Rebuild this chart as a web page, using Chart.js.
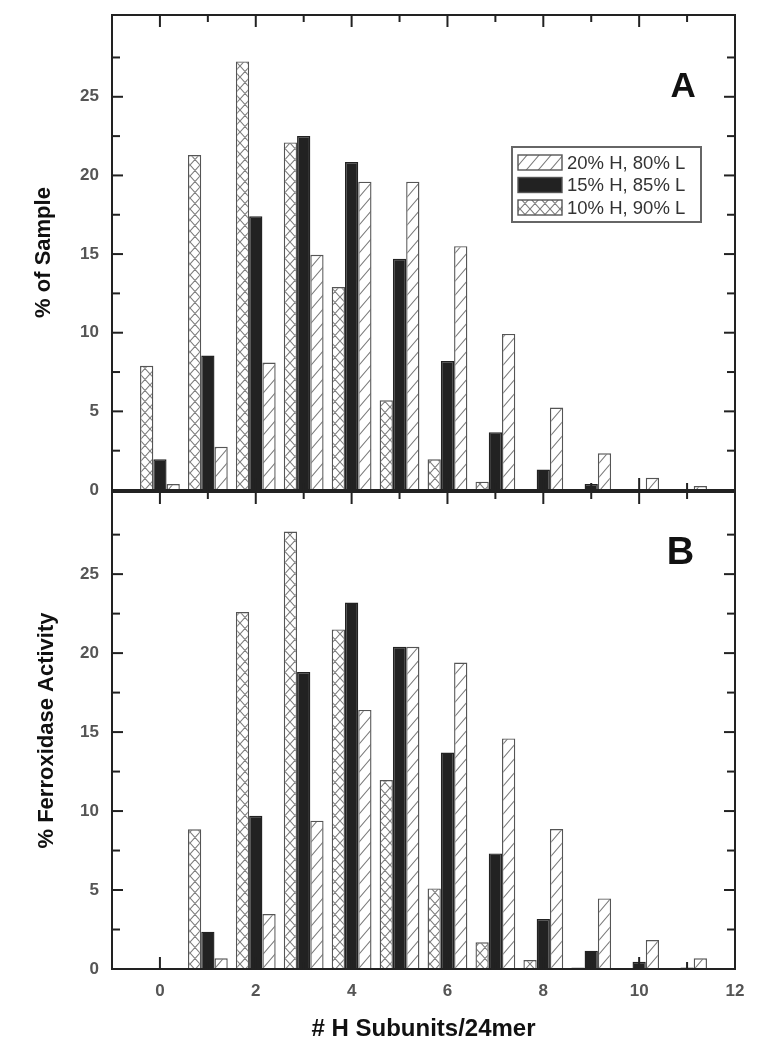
<!DOCTYPE html>
<html><head><meta charset="utf-8">
<script src="https://cdn.jsdelivr.net/npm/chart.js@4.4.0/dist/chart.umd.min.js"></script>
<style>
html,body{margin:0;padding:0;background:#fff;width:761px;height:1050px;overflow:hidden;}
canvas{position:absolute;left:0;}
#cA{top:0;}
#cB{top:491px;}
</style></head><body>
<canvas id="cA" width="761" height="505"></canvas>
<canvas id="cB" width="761" height="559"></canvas>
<script>
// ---------- data ----------
const categories = [0, 1, 2, 3, 4, 5, 6, 7, 8, 9, 10, 11];
const seriesLabels = ['10% H, 90% L', '15% H, 85% L', '20% H, 80% L'];

// Panel A: % of Sample
const sampleH10 = [7.9, 21.3, 27.25, 22.1, 12.9, 5.7, 1.95, 0.53, 0.06, 0.02, 0, 0];
const sampleH15 = [1.95, 8.55, 17.4, 22.5, 20.85, 14.7, 8.2, 3.67, 1.3, 0.38, 0.06, 0.03];
const sampleH20 = [0.38, 2.75, 8.1, 14.95, 19.6, 19.6, 15.5, 9.92, 5.24, 2.33, 0.78, 0.25];

// Panel B: % Ferroxidase Activity
const activityH10 = [0, 8.84, 22.6, 27.7, 21.5, 11.96, 5.1, 1.69, 0.57, 0.1, 0, 0];
const activityH15 = [0, 2.36, 9.7, 18.8, 23.2, 20.4, 13.7, 7.32, 3.16, 1.16, 0.46, 0.1];
const activityH20 = [0, 0.68, 3.48, 9.39, 16.4, 20.4, 19.4, 14.6, 8.86, 4.47, 1.83, 0.68];

// axis ticks
const xTickLabels = [0, 2, 4, 6, 8, 10, 12];
const xMinorTicks = [1, 3, 5, 7, 9, 11];
const yTickLabels = [0, 5, 10, 15, 20, 25];
const yMinorTicks = [2.5, 7.5, 12.5, 17.5, 22.5, 27.5];

// ---------- styling helpers ----------
const FONT = "'Liberation Sans', Arial, Helvetica, sans-serif";
const INK = '#222';

function makePattern(kind) {
  const w = kind === 'diag' ? 12 : 10;
  const h = kind === 'diag' ? 14 : 11;
  const c = document.createElement('canvas');
  c.width = w; c.height = h;
  const g = c.getContext('2d');
  g.fillStyle = '#fff';
  g.fillRect(0, 0, w, h);
  g.strokeStyle = '#7c7c7c';
  g.lineWidth = 1.1;
  g.beginPath();
  for (let k = -1; k <= 1; k++) {
    g.moveTo(-w + k * w, 2 * h); g.lineTo(2 * w + k * w, -h);
    if (kind === 'cross') {
      g.moveTo(-w + k * w, -h); g.lineTo(2 * w + k * w, 2 * h);
    }
  }
  g.stroke();
  return g.createPattern(c, 'repeat');
}
const crossFill = makePattern('cross');
const diagFill = makePattern('diag');
const solidFill = '#222';

function buildDatasets(h10, h15, h20) {
  const mk = (label, arr, fill, border) => ({
    label,
    data: categories.map((c, i) => ({ x: c, y: arr[i] })),
    backgroundColor: fill,
    borderColor: border,
    borderWidth: 1.4,
    borderSkipped: 'start'
  });
  return [
    mk(seriesLabels[0], h10, crossFill, '#555'),
    mk(seriesLabels[1], h15, solidFill, '#222'),
    mk(seriesLabels[2], h20, diagFill, '#555')
  ];
}

// frame + inward ticks on all four sides
const framePlugin = {
  id: 'frameTicks',
  afterDatasetsDraw(chart) {
    const { ctx, chartArea: a, scales: { x, y } } = chart;
    ctx.save();
    ctx.strokeStyle = INK;
    ctx.lineWidth = 2;
    ctx.strokeRect(a.left, a.top, a.right - a.left, a.bottom - a.top);
    const seg = (x1, y1, x2, y2) => { ctx.beginPath(); ctx.moveTo(x1, y1); ctx.lineTo(x2, y2); ctx.stroke(); };
    const xt = (vals, len) => vals.forEach(v => {
      const p = x.getPixelForValue(v);
      if (p <= a.left + 1 || p >= a.right - 1) return;
      seg(p, a.bottom, p, a.bottom - len);
      seg(p, a.top, p, a.top + len);
    });
    const yt = (vals, len) => vals.forEach(v => {
      const p = y.getPixelForValue(v);
      if (p <= a.top + 1 || p >= a.bottom - 1) return;
      seg(a.left, p, a.left + len, p);
      seg(a.right, p, a.right - len, p);
    });
    xt(xTickLabels, 12); xt(xMinorTicks, 7);
    yt(yTickLabels, 11); yt(yMinorTicks, 8);
    ctx.restore();
  }
};

// panel letter placed in data coordinates
const panelLetterPlugin = {
  id: 'panelLetter',
  afterDraw(chart, args, o) {
    if (!o || !o.text) return;
    const { ctx, scales: { x, y } } = chart;
    ctx.save();
    ctx.font = `bold ${o.size}px ${FONT}`;
    ctx.fillStyle = '#111';
    ctx.textAlign = 'center';
    ctx.textBaseline = 'middle';
    ctx.fillText(o.text, x.getPixelForValue(o.x), y.getPixelForValue(o.y));
    ctx.restore();
  }
};

// boxed legend inside the plot (panel A)
const boxLegendPlugin = {
  id: 'boxLegend',
  afterDraw(chart, args, o) {
    if (!o || !o.show) return;
    const { ctx, chartArea: a } = chart;
    const left = a.right - 223, top = a.top + 132, w = 189, h = 75;
    ctx.save();
    ctx.fillStyle = '#fff';
    ctx.fillRect(left, top, w, h);
    ctx.strokeStyle = '#666';
    ctx.lineWidth = 2;
    ctx.strokeRect(left, top, w, h);
    const ds = chart.data.datasets.slice().reverse();
    ctx.font = `18.5px ${FONT}`;
    ctx.textBaseline = 'middle';
    ctx.textAlign = 'left';
    ds.forEach((d, i) => {
      const cy = top + 15.5 + i * 22.5;
      const sx = left + 6, sy = cy - 7.5;
      ctx.fillStyle = d.backgroundColor;
      ctx.fillRect(sx, sy, 44, 15);
      ctx.strokeStyle = '#555';
      ctx.lineWidth = 1.4;
      ctx.strokeRect(sx, sy, 44, 15);
      ctx.fillStyle = '#333';
      ctx.fillText(d.label, left + 55, cy + 1);
    });
    ctx.restore();
  }
};

function makeChart(canvasId, datasets, cfg) {
  return new Chart(document.getElementById(canvasId), {
    type: 'bar',
    data: { datasets },
    plugins: [framePlugin, panelLetterPlugin, boxLegendPlugin],
    options: {
      responsive: false,
      animation: false,
      devicePixelRatio: 1,
      layout: { padding: cfg.padding },
      datasets: { bar: { categoryPercentage: 0.83, barPercentage: 1.0 } },
      plugins: {
        legend: { display: false },
        tooltip: { enabled: false },
        panelLetter: cfg.letter,
        boxLegend: { show: cfg.legend }
      },
      scales: {
        x: {
          type: 'linear',
          min: -1, max: 12,
          offset: false,
          display: cfg.showX,
          grid: { display: false, drawTicks: false },
          border: { display: false },
          afterBuildTicks: s => { s.ticks = xTickLabels.map(v => ({ value: v })); },
          afterFit: s => {
            if (cfg.showX) s.height = cfg.xHeight;
            s.paddingLeft = 0; s.paddingRight = 0;
          },
          ticks: {
            padding: 12, maxRotation: 0, autoSkip: false,
            color: '#555', font: { family: FONT, size: 17, weight: 'bold' }
          },
          title: {
            display: cfg.showX,
            text: '# H Subunits/24mer',
            color: '#111',
            padding: { top: 0, bottom: 6 },
            font: { family: FONT, size: 24, weight: 'bold' }
          }
        },
        y: {
          min: 0, max: 30.2,
          grid: { display: false, drawTicks: false },
          border: { display: false },
          afterBuildTicks: s => { s.ticks = yTickLabels.map(v => ({ value: v })); },
          afterFit: s => { s.width = 112; s.paddingTop = 0; s.paddingBottom = 0; },
          ticks: {
            padding: 13,
            color: '#555', font: { family: FONT, size: 17, weight: 'bold' }
          },
          title: {
            display: true,
            text: cfg.yTitle,
            color: '#111',
            padding: { top: cfg.yTitlePad, bottom: 0 },
            font: { family: FONT, size: 22, weight: 'bold' }
          }
        }
      }
    }
  });
}

makeChart('cA', buildDatasets(sampleH10, sampleH15, sampleH20), {
  padding: { top: 15, right: 26, bottom: 15, left: 0 },
  showX: false,
  yTitle: '% of Sample',
  yTitlePad: 31,
  legend: true,
  letter: { text: 'A', x: 10.92, y: 25.6, size: 35 }
});

makeChart('cB', buildDatasets(activityH10, activityH15, activityH20), {
  padding: { top: 1, right: 26, bottom: 0, left: 0 },
  showX: true,
  xHeight: 81,
  yTitle: '% Ferroxidase Activity',
  yTitlePad: 34,
  legend: false,
  letter: { text: 'B', x: 10.86, y: 26.3, size: 38 }
});
</script>
</body></html>
